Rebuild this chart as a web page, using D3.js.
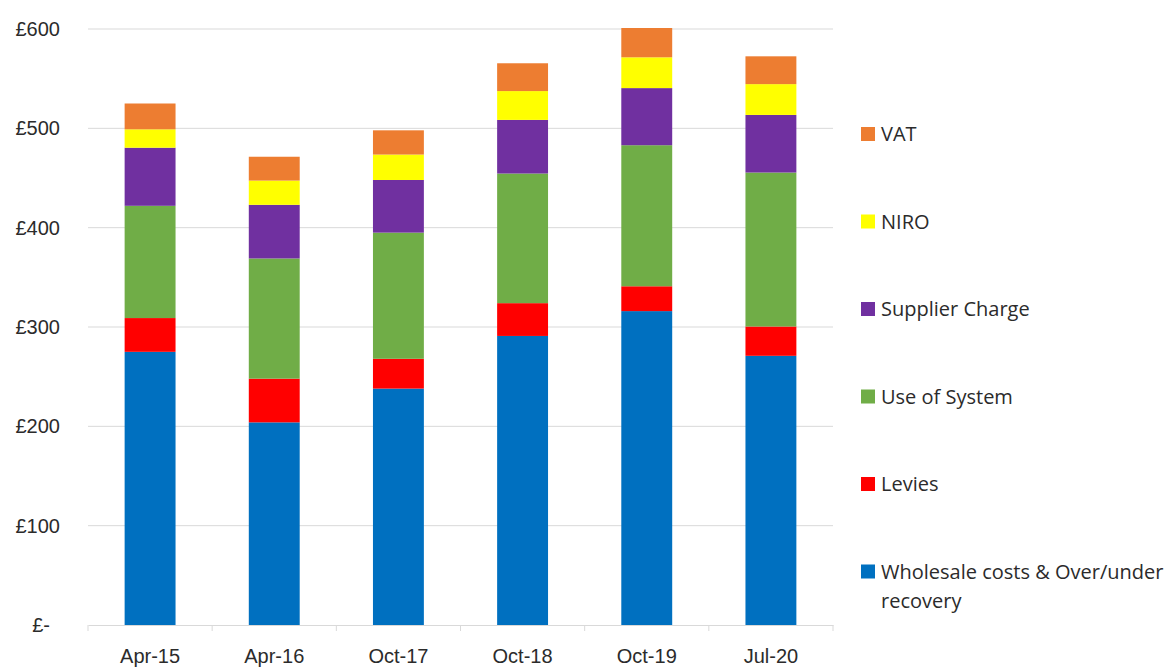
<!DOCTYPE html>
<meta charset="utf-8">
<script src="https://d3js.org/d3.v7.min.js"></script>
<style>
  body { margin: 0; background: #fff; font-family: "Open Sans", "Noto Sans", sans-serif; }
  .tick text { font-size: 20px; fill: #2b2b2b; }
  .legend text { font-size: 20px; fill: #2b2b2b; }
</style>
<div id="chart"></div>
<script>

var periods = ["Apr-15", "Apr-16", "Oct-17", "Oct-18", "Oct-19", "Jul-20"];

var seriesNames = ["Wholesale costs & Over/under recovery", "Levies", "Use of System", "Supplier Charge", "NIRO", "VAT"];

var wholesale = [275, 204, 238, 291, 316, 271];
var levies    = [34, 44, 30, 33, 25, 29.5];
var useSystem = [113, 121, 127, 130.5, 142, 155];
var supplier  = [58.5, 54, 53, 54, 57.5, 58];
var niro      = [18.5, 24.4, 25.6, 29, 31, 31];
var vat       = [26, 24, 24.4, 28, 29.5, 28];

var colors = ["#0070C0", "#FF0000", "#70AD47", "#7030A0", "#FFFF00", "#ED7D31"];

var yTicks = [0, 100, 200, 300, 400, 500, 600];

var margin = {top: 29, right: 342, bottom: 42, left: 88},
  width = 1175 - margin.left - margin.right,
  height = 667 - margin.top - margin.bottom;

var svg = d3.select("#chart")
  .append("svg")
    .attr("width", 1175)
    .attr("height", 667)
  .append("g")
    .attr("transform", "translate(" + margin.left + "," + margin.top + ")");

// build rows for the stack
var allSeries = [wholesale, levies, useSystem, supplier, niro, vat];
var rows = periods.map(function(p, i) {
  var r = {period: p};
  seriesNames.forEach(function(s, j) { r[s] = allSeries[j][i]; });
  return r;
});

var stacked = d3.stack().keys(seriesNames)(rows);

var x = d3.scaleBand()
  .domain(periods)
  .range([0, width])
  .paddingInner(0.59)
  .paddingOuter(0.295);

var y = d3.scaleLinear()
  .domain([0, 600])
  .range([height, 0]);

// gridlines
svg.append("g")
  .selectAll("line")
  .data(yTicks.slice(1))
  .enter().append("line")
    .attr("x1", 0)
    .attr("x2", width)
    .attr("y1", function(d) { return y(d); })
    .attr("y2", function(d) { return y(d); })
    .attr("stroke", "#d9d9d9")
    .attr("stroke-width", 1);

// y axis labels
var yAxis = svg.append("g")
  .call(d3.axisLeft(y).tickValues(yTicks).tickSize(0).tickPadding(28)
    .tickFormat(function(d) { return d === 0 ? "£-" : "£" + d; }));
yAxis.select(".domain").remove();
yAxis.selectAll(".tick text").filter(function(d) { return d === 0; }).attr("dx", -10);

// bars
svg.append("g")
  .selectAll("g")
  .data(stacked)
  .enter().append("g")
    .attr("fill", function(d, i) { return colors[i]; })
  .selectAll("rect")
  .data(function(d) { return d; })
  .enter().append("rect")
    .attr("x", function(d) { return x(d.data.period); })
    .attr("y", function(d) { return y(d[1]); })
    .attr("height", function(d) { return y(d[0]) - y(d[1]); })
    .attr("width", x.bandwidth());

// x axis with category dividers
var xAxis = svg.append("g")
  .attr("transform", "translate(0," + height + ")")
  .call(d3.axisBottom(x).tickSize(0).tickPadding(24));
xAxis.select(".domain").attr("stroke", "#d9d9d9");

var step = x.step();
svg.append("g")
  .selectAll("line")
  .data(d3.range(periods.length + 1))
  .enter().append("line")
    .attr("x1", function(d) { return d * step; })
    .attr("x2", function(d) { return d * step; })
    .attr("y1", height)
    .attr("y2", height + 6)
    .attr("stroke", "#d9d9d9");

// legend
var legendOrder = seriesNames.slice().reverse();
var legend = svg.append("g")
  .attr("class", "legend")
  .attr("transform", "translate(" + (width + 28) + ",0)");

var item = legend.selectAll("g")
  .data(legendOrder)
  .enter().append("g")
    .attr("transform", function(d, i) { return "translate(0," + (105 + i * 87.5) + ")"; });

item.append("rect")
  .attr("x", 0)
  .attr("y", -7)
  .attr("width", 14)
  .attr("height", 14)
  .attr("fill", function(d) { return colors[seriesNames.indexOf(d)]; });

item.append("text")
  .attr("x", 20)
  .attr("y", 0)
  .attr("dy", "0.35em")
  .each(function(d) {
    var t = d3.select(this);
    if (d.indexOf("Wholesale") === 0) {
      t.append("tspan").attr("x", 20).text("Wholesale costs & Over/under");
      t.append("tspan").attr("x", 20).attr("dy", "1.45em").text("recovery");
    } else {
      t.text(d);
    }
  });

</script>
